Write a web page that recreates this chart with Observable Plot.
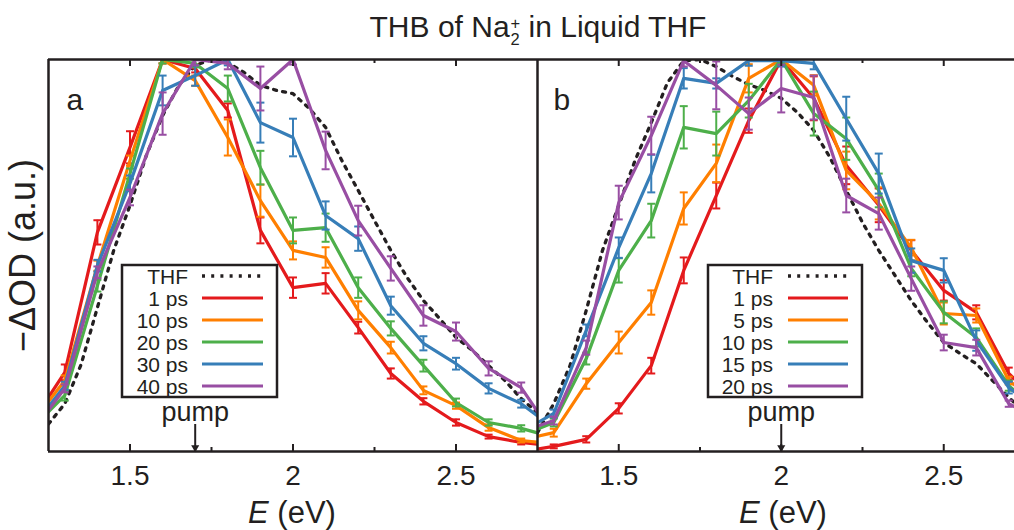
<!DOCTYPE html>
<html><head><meta charset="utf-8">
<script src="https://cdn.jsdelivr.net/npm/d3@7"></script>
<script src="https://cdn.jsdelivr.net/npm/@observablehq/plot@0.6"></script>
<style>
html,body{margin:0;padding:0;background:#fff;}
#wrap{position:relative;width:1014px;height:530px;overflow:hidden;font-family:"Liberation Sans",Arial,Helvetica,sans-serif;color:#231f20;}
#title{position:relative;height:46px;}
#title .t{position:absolute;left:0;top:12px;width:1076px;text-align:center;font-size:30px;line-height:30px;white-space:nowrap;}
.ss{display:inline-block;vertical-align:-0.5em;font-size:0.55em;line-height:1em;text-align:left;margin-left:1px;}
.ss span{display:block;height:1em;}
#row{display:flex;height:484px;}
#overlay{position:absolute;left:0;top:0;pointer-events:none;}
</style></head><body>
<div id="wrap"><div id="title"><div class="t">THB of Na<span class="ss"><span>+</span><span>2</span></span> in Liquid THF</div></div><div id="row"></div><svg id="overlay" width="1014" height="530"></svg></div>
<script>
// ---- data ----
const energy = [1.2, 1.3, 1.4, 1.5, 1.6, 1.7, 1.8, 1.9, 2.0, 2.1, 2.2, 2.3, 2.4, 2.5, 2.6, 2.7, 2.8];
const labelsA = ["1 ps", "10 ps", "20 ps", "30 ps", "40 ps"];
const labelsB = ["1 ps", "5 ps", "10 ps", "15 ps", "20 ps"];

const a1ps  = [0.075, 0.202, 0.559, 0.776, 1.0, 0.977, 0.870, 0.564, 0.418, 0.429, 0.316, 0.199, 0.128, 0.074, 0.038, 0.023, 0.014];
const a10ps = [0.074, 0.181, 0.474, 0.742, 1.0, 0.946, 0.801, 0.640, 0.513, 0.495, 0.360, 0.265, 0.156, 0.117, 0.061, 0.028, 0.020];
const a20ps = [0.060, 0.143, 0.423, 0.709, 1.0, 0.990, 0.926, 0.724, 0.564, 0.571, 0.418, 0.314, 0.219, 0.125, 0.074, 0.059, 0.036];
const a30ps = [0.060, 0.168, 0.474, 0.684, 0.921, 0.959, 1.0, 0.839, 0.801, 0.602, 0.543, 0.372, 0.276, 0.224, 0.161, 0.122, 0.060];
const a40ps = [0.050, 0.161, 0.457, 0.648, 0.862, 1.0, 0.990, 0.926, 1.0, 0.768, 0.589, 0.467, 0.347, 0.306, 0.212, 0.163, 0.040];

const a1psErr  = [null, .020, .031, .041, .010, .010, .018, .033, .026, .026, .015, .013, .008, .008, .005, .005, null];
const a10psErr = [null, .013, .013, .013, .010, .013, .046, .041, .023, .026, .023, .015, .010, .008, .008, .005, null];
const a20psErr = [null, .013, .015, .013, .010, .010, .033, .043, .033, .036, .026, .018, .015, .010, .008, .008, null];
const a30psErr = [null, .010, .015, .020, .038, .026, .015, .051, .048, .036, .031, .023, .018, .015, .013, .010, null];
const a40psErr = [null, .010, .015, .020, .054, .015, .015, .056, .013, .048, .038, .031, .026, .023, .018, .013, null];

const b1ps  = [0.000, 0.013, 0.031, 0.110, 0.219, 0.462, 0.653, 0.844, 1.0, 0.901, 0.730, 0.628, 0.513, 0.411, 0.355, 0.199, 0.120];
const b5ps  = [0.030, 0.048, 0.173, 0.278, 0.380, 0.620, 0.735, 0.952, 1.0, 0.934, 0.717, 0.633, 0.520, 0.352, 0.347, 0.181, 0.120];
const b10ps = [0.040, 0.074, 0.237, 0.462, 0.589, 0.827, 0.811, 0.895, 1.0, 0.862, 0.798, 0.666, 0.467, 0.355, 0.291, 0.168, 0.100];
const b15ps = [0.050, 0.097, 0.309, 0.520, 0.709, 0.952, 0.939, 0.997, 0.997, 0.990, 0.849, 0.709, 0.487, 0.462, 0.283, 0.163, 0.100];
const b20ps = [0.050, 0.079, 0.265, 0.635, 0.806, 0.997, 0.934, 0.862, 0.926, 0.903, 0.653, 0.607, 0.441, 0.278, 0.265, 0.122, 0.080];

const b1psErr  = [null, .005, .008, .013, .020, .033, .033, .031, .015, .056, .048, .043, .026, .026, .018, .015, null];
const b5psErr  = [null, .010, .013, .028, .031, .041, .048, .036, .015, .026, .048, .041, .020, .028, .018, .010, null];
const b10psErr = [null, .010, .015, .031, .043, .054, .056, .043, .015, .056, .054, .043, .020, .028, .023, .013, null];
const b15psErr = [null, .010, .015, .026, .048, .026, .013, .013, .015, .015, .056, .051, .031, .031, .026, .015, null];
const b20psErr = [null, .010, .018, .043, .048, .015, .061, .041, .061, .056, .043, .041, .031, .020, .020, .008, null];

const thfEnergy = [1.25, 1.30, 1.35, 1.40, 1.45, 1.50, 1.55, 1.60, 1.65, 1.70, 1.75, 1.80, 1.85, 1.90, 1.95, 2.00,
                   2.05, 2.10, 2.15, 2.20, 2.25, 2.30, 2.35, 2.40, 2.45, 2.50, 2.55, 2.60, 2.65, 2.70, 2.75];
const thfA = [0.070, 0.122, 0.222, 0.367, 0.513, 0.628, 0.755, 0.857, 0.934, 0.985, 1.0, 0.992, 0.967, 0.934, 0.921, 0.913,
              0.875, 0.827, 0.742, 0.666, 0.589, 0.513, 0.444, 0.385, 0.339, 0.291, 0.258, 0.219, 0.181, 0.135, 0.099];
const thfB = [0.048, 0.122, 0.219, 0.360, 0.513, 0.628, 0.742, 0.839, 0.941, 0.997, 1.0, 0.982, 0.957, 0.936, 0.921, 0.901,
              0.865, 0.819, 0.750, 0.666, 0.584, 0.513, 0.449, 0.385, 0.329, 0.278, 0.250, 0.224, 0.181, 0.138, 0.100];

const tickMajor = [1.5, 2, 2.5];
const tickMinor = [1.75, 2.25];
const tickLabels = ["1.5", "2", "2.5"];
const pumpA = 1.7, pumpB = 2.0;
const yTitle = "−ΔOD (a.u.)";

// ---- styles ----
const colors = ["#e41a1c", "#ff7f00", "#4daf4a", "#377eb8", "#984ea3"];
const ink = "#231f20";
const FONT = "'Liberation Sans', Arial, Helvetica, sans-serif";
const DOTS = "3,6.2";

const rows = (vals, errs) => energy.map((E, i) => ({E, v: vals[i], err: errs[i]}));
const capSymbol = {draw(ctx, size) { const r = Math.sqrt(size / Math.PI); ctx.moveTo(-r, 0); ctx.lineTo(r, 0); }};

function seriesMarks(data, color) {
  const eb = data.filter(d => d.err != null);
  return [
    Plot.line(data, {x: "E", y: "v", stroke: color, strokeWidth: 3.2, clip: true}),
    Plot.ruleX(eb, {x: "E", y1: d => d.v - d.err, y2: d => d.v + d.err, stroke: color, strokeWidth: 2, clip: true}),
    Plot.dot(eb, {x: "E", y: d => d.v - d.err, symbol: capSymbol, r: 4, stroke: color, strokeWidth: 2, fill: "none", clip: true}),
    Plot.dot(eb, {x: "E", y: d => d.v + d.err, symbol: capSymbol, r: 4, stroke: color, strokeWidth: 2, fill: "none", clip: true})
  ];
}

function panel({width, marginLeft, domain, series, thf, tag, tagDx, pump, withYLabel, frameRight}) {
  const H = 484, mt = 13, mb = 79, inner = H - mt - mb;
  const thfRows = thfEnergy.map((E, i) => ({E, v: thf[i]}));
  const marks = [
    Plot.line(thfRows, {x: "E", y: "v", stroke: ink, strokeWidth: 3.3, strokeDasharray: DOTS, clip: true}),
    ...series.flatMap(s => seriesMarks(s.data, s.color)),
    Plot.ruleY([0, 1], {y: d => d, stroke: ink, strokeWidth: 2.5}),
    Plot.ruleX(frameRight ? domain : [domain[0]], {x: d => d, stroke: ink, strokeWidth: 2.5}),
    Plot.ruleX(tickMajor, {x: d => d, insetTop: inner - 7, stroke: ink, strokeWidth: 2}),
    Plot.ruleX(tickMajor, {x: d => d, insetBottom: inner - 7, stroke: ink, strokeWidth: 2}),
    Plot.ruleX(tickMinor, {x: d => d, insetTop: inner - 4, stroke: ink, strokeWidth: 2}),
    Plot.ruleX(tickMinor, {x: d => d, insetBottom: inner - 4, stroke: ink, strokeWidth: 2}),
    Plot.axisX(tickMajor, {tickSize: 0, tickPadding: 14, fontSize: 28, label: null, fill: ink,
      tickFormat: d => tickLabels[tickMajor.indexOf(d)]}),
    Plot.text([tag], {text: d => d, frameAnchor: "top-left", dx: tagDx, dy: 50, lineAnchor: "bottom", textAnchor: "start", fontSize: 30, fill: ink}),
    Plot.text(["pump"], {text: d => d, x: () => pump, frameAnchor: "bottom", dy: -31, lineAnchor: "bottom", fontSize: 27, fill: ink}),
    Plot.ruleX([pump], {x: d => d, insetTop: inner - 27, stroke: ink, strokeWidth: 2}),
    Plot.dot([pump], {x: d => d, frameAnchor: "bottom", symbol: "triangle", rotate: 180, r: 3, dy: -4, fill: ink, stroke: "none"})
  ];
  if (withYLabel) marks.push(Plot.text([yTitle], {text: d => d, frameAnchor: "left", rotate: -90, dx: -14, textAnchor: "middle", lineAnchor: "bottom", fontSize: 36, fill: ink}));
  return Plot.plot({
    width, height: H, marginLeft, marginRight: 0, marginTop: mt, marginBottom: mb,
    x: {domain, type: "linear"},
    y: {domain: [0, 1], axis: null},
    style: {fontFamily: FONT, background: "white", color: ink},
    marks
  });
}

const seriesA = [a1ps, a10ps, a20ps, a30ps, a40ps].map((v, i) =>
  ({data: rows(v, [a1psErr, a10psErr, a20psErr, a30psErr, a40psErr][i]), color: colors[i]}));
const seriesB = [b1ps, b5ps, b10ps, b15ps, b20ps].map((v, i) =>
  ({data: rows(v, [b1psErr, b5psErr, b10psErr, b15psErr, b20psErr][i]), color: colors[i]}));

const row = document.getElementById("row");
row.append(panel({width: 537, marginLeft: 48, domain: [1.25, 2.75], series: seriesA, thf: thfA, tag: "a", tagDx: 18, pump: pumpA, withYLabel: true, frameRight: true}));
row.append(panel({width: 477, marginLeft: 0, domain: [1.25, 2.7177], series: seriesB, thf: thfB, tag: "b", tagDx: 16, pump: pumpB, withYLabel: false, frameRight: false}));

// ---- overlay: legends and x-axis titles ----
const ov = d3.select("#overlay").style("font-family", FONT);
function legend(x0, y0, w, labels, textRight, s0, s1) {
  const g = ov.append("g").attr("transform", `translate(${x0},${y0})`);
  g.append("rect").attr("width", w).attr("height", 132).attr("fill", "none").attr("stroke", ink).attr("stroke-width", 2.5);
  const entries = [{label: "THF", color: ink, dotted: true}, ...labels.map((l, i) => ({label: l, color: colors[i]}))];
  entries.forEach((e, i) => {
    const cy = 11 + i * 22;
    g.append("text").attr("x", textRight).attr("y", cy).attr("dy", "0.36em").attr("text-anchor", "end")
      .attr("font-size", 21).attr("fill", ink).text(e.label);
    const ln = g.append("line").attr("x1", s0).attr("x2", s1).attr("y1", cy).attr("y2", cy)
      .attr("stroke", e.color).attr("stroke-width", e.dotted ? 3.3 : 3.2);
    if (e.dotted) ln.attr("stroke-dasharray", DOTS);
  });
}
legend(122, 265, 155, labelsA, 66, 80, 141);
legend(708, 265, 154, labelsB, 65, 80, 140);

[292, 783].forEach(cx => {
  const t = ov.append("text").attr("x", cx).attr("y", 523).attr("text-anchor", "middle").attr("font-size", 31).attr("fill", ink);
  t.append("tspan").attr("font-style", "italic").text("E");
  t.append("tspan").text(" (eV)");
});
</script>
</body></html>
